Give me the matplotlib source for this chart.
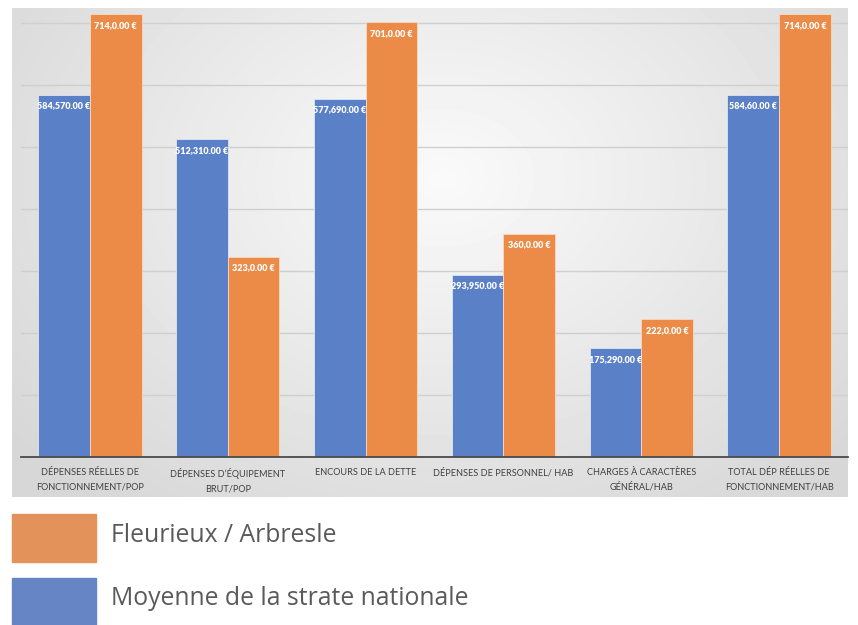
import numpy as np
import matplotlib
matplotlib.use("Agg")
import matplotlib.pyplot as plt
from matplotlib.patches import Rectangle

# Données
categories = [
    "DÉPENSES RÉELLES DE\nFONCTIONNEMENT/POP",
    "DÉPENSES D’ÉQUIPEMENT\nBRUT/POP",
    "ENCOURS DE LA DETTE",
    "DÉPENSES DE PERSONNEL/ HAB",
    "CHARGES À CARACTÈRES\nGÉNÉRAL/HAB",
    "TOTAL DÉP RÉELLES DE\nFONCTIONNEMENT/HAB",
]
moyenne = [584.57, 512.31, 577.69, 293.95, 175.29, 584.60]
fleurieux = [714.0, 323.0, 701.0, 360.0, 222.0, 714.0]
labels_moyenne = ["584,570.00 €", "512,310.00 €", "577,690.00 €",
                  "293,950.00 €", "175,290.00 €", "584,60.00 €"]
labels_fleurieux = ["714,0.00 €", "323,0.00 €", "701,0.00 €",
                    "360,0.00 €", "222,0.00 €", "714,0.00 €"]
series_names = ["Fleurieux / Arbresle", "Moyenne de la strate nationale"]

W, H = 858, 625
BLUE = "#5a80c8"
ORANGE = "#ec8b48"

plt.rcParams['font.family'] = ['Lato', 'DejaVu Sans']

fig = plt.figure(figsize=(W / 100, H / 100), dpi=100)

def px_axes(x0, y0, x1, y1, **kw):
    # rectangle en pixels (origine en haut à gauche) -> axes matplotlib
    return fig.add_axes([x0 / W, 1 - y1 / H, (x1 - x0) / W, (y1 - y0) / H], **kw)

# Fond gris en dégradé radial
bg = px_axes(12, 8, 848, 497)
bg.set_axis_off()
yy, xx = np.mgrid[0:489, 0:836]
d = np.sqrt(((xx - 430) / 560.0) ** 2 + ((yy - 170) / 420.0) ** 2)
shade = np.clip(0.98 - 0.14 * d, 0.84, 0.98)
bg.imshow(shade, cmap="gray", vmin=0, vmax=1, aspect="auto", interpolation="bilinear")

# Graphique principal
ax = px_axes(21, 8, 848, 457)
ax.patch.set_alpha(0)
x = np.arange(len(categories))
w = 0.375
b1 = ax.bar(x - w / 2, moyenne, w, color=BLUE, edgecolor="#dfe6f3", linewidth=0.6, zorder=3)
b2 = ax.bar(x + w / 2, fleurieux, w, color=ORANGE, edgecolor="#f6d9c3", linewidth=0.6, zorder=3)

for rects, labs in ((b1, labels_moyenne), (b2, labels_fleurieux)):
    for r, lab in zip(rects, labs):
        ax.annotate(lab, (r.get_x() + r.get_width() / 2, r.get_height()),
                    xytext=(0, -11), textcoords="offset pixels",
                    ha="center", va="center", color="white", fontsize=6.5,
                    fontweight="heavy", zorder=4)

ax.set_xlim(-0.5, len(categories) - 0.5)
ax.set_ylim(0, 449 / 0.62)
ax.set_yticks(np.arange(100, 800, 100))
ax.yaxis.grid(True, color="#cfcfcf", linewidth=1.0, zorder=1)
ax.tick_params(axis="y", left=False, labelleft=False)
for s in ("top", "right", "left"):
    ax.spines[s].set_visible(False)
ax.spines["bottom"].set_color("#4a4a4a")
ax.spines["bottom"].set_linewidth(1.3)
ax.spines["bottom"].set_zorder(5)
ax.set_xticks(x)
ax.set_xticklabels(categories, fontsize=6.6, color="#404040", linespacing=1.7, va="top")
ax.tick_params(axis="x", length=0, pad=8)

# Légende
leg = [(514, 562, "#e3925a", series_names[0]),
       (578, 625, "#6585c4", series_names[1])]
for y0, y1, col, name in leg:
    fig.patches.append(Rectangle((12 / W, 1 - y1 / H), 84 / W, (y1 - y0) / H,
                                 transform=fig.transFigure, color=col, figure=fig))
    fig.text(111 / W, 1 - ((y0 + y1) / 2 - 3) / H, name, fontsize=17.8,
             family=['Open Sans', 'DejaVu Sans'],
             color="#5a5a5a", va="center", ha="left")

fig.savefig("out.png", dpi=100)
